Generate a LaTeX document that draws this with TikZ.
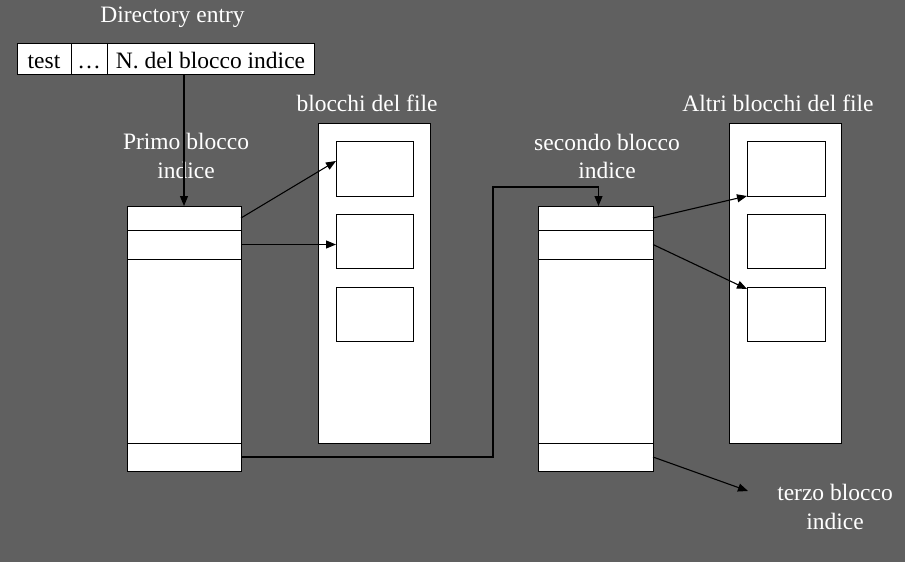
\documentclass[tikz,border=0pt]{standalone}
\usepackage{fontspec}
\setmainfont{Liberation Serif}
\usetikzlibrary{arrows.meta}
\definecolor{bg}{RGB}{96,96,96}
\begin{document}
\begin{tikzpicture}[x=1pt,y=-1pt,
  cell/.style={draw=black,fill=white,line width=0.9pt,inner sep=0pt,outer sep=0pt,text=black,font=\fontsize{23.5}{28}\selectfont},
  tcell/.style={cell,text height=22pt,text depth=3pt},
  lbl/.style={anchor=base,inner sep=0pt,text=white,font=\fontsize{23.5}{28}\selectfont,align=center},
  arr/.style={draw=black,line width=1.1pt,-{Triangle[length=10pt,width=8pt]}},
  conn/.style={draw=black,line width=1.1pt}]
\fill[bg] (0,0) rectangle (905,562);
\useasboundingbox (0,0) rectangle (905,562);
% directory entry
\node[lbl] (dirlbl) at (172.5,23) {Directory entry};
\node[tcell,minimum width=54pt,minimum height=31pt] (etest) at (44,58.5) {test};
\node[tcell,minimum width=36pt,minimum height=31pt] (edots) at (89,58.5) {…};
\node[tcell,minimum width=207pt,minimum height=31pt] (eN) at (210.5,58.5) {N. del blocco indice};
% first index block
\node[lbl] (p1) at (186,149) {Primo blocco};
\node[lbl] (p2) at (186,178) {indice};
\node[cell,minimum width=114pt,minimum height=24pt] (ia) at (184,218) {};
\node[cell,minimum width=114pt,minimum height=29pt] (ib) at (184,244.5) {};
\node[cell,minimum width=114pt,minimum height=184pt] (ic) at (184,351) {};
\node[cell,minimum width=114pt,minimum height=28pt] (id) at (184,457) {};
% file blocks 1
\node[lbl] (bf) at (367,111) {blocchi del file};
\node[cell,minimum width=112pt,minimum height=320pt] (fcol) at (374,283) {};
\node[cell,minimum width=77pt,minimum height=55pt] (f1) at (374.5,168.5) {};
\node[cell,minimum width=77pt,minimum height=54pt] (f2) at (374.5,241) {};
\node[cell,minimum width=77pt,minimum height=54pt] (f3) at (374.5,314) {};
% second index block
\node[lbl] (s1) at (607,150) {secondo blocco};
\node[lbl] (s2) at (607,178) {indice};
\node[cell,minimum width=115pt,minimum height=24pt] (ja) at (595.5,218) {};
\node[cell,minimum width=115pt,minimum height=29pt] (jb) at (595.5,244.5) {};
\node[cell,minimum width=115pt,minimum height=184pt] (jc) at (595.5,351) {};
\node[cell,minimum width=115pt,minimum height=28pt] (jd) at (595.5,457) {};
% file blocks 2
\node[lbl] (af) at (778,111) {Altri blocchi del file};
\node[cell,minimum width=112pt,minimum height=320pt] (gcol) at (785,283) {};
\node[cell,minimum width=78pt,minimum height=55pt] (g1) at (786,168.5) {};
\node[cell,minimum width=78pt,minimum height=54pt] (g2) at (786,241) {};
\node[cell,minimum width=78pt,minimum height=54pt] (g3) at (786,314) {};
% third
\node[lbl] (t1) at (835,500) {terzo blocco};
\node[lbl] (t2) at (835,529) {indice};
\coordinate (bend) at (493,187);
\coordinate (t3) at (748,491);
% connectors
\draw[arr] (eN.south -| ia.north) -- (ia.north);
\draw[arr] (ia.east) -- ([yshift=7.5pt]f1.west);
\draw[arr] (ib.east) -- (ib.east -| f2.west);
\draw[arr] (id.east) -| (bend) -| ([xshift=3pt]ja.north);
\draw[arr] (ja.east) -- (g1.south west);
\draw[arr] (jb.east) -- ([yshift=-2pt]g3.north west);
\draw[arr] (jd.east) -- (t3);
\end{tikzpicture}
\end{document}
